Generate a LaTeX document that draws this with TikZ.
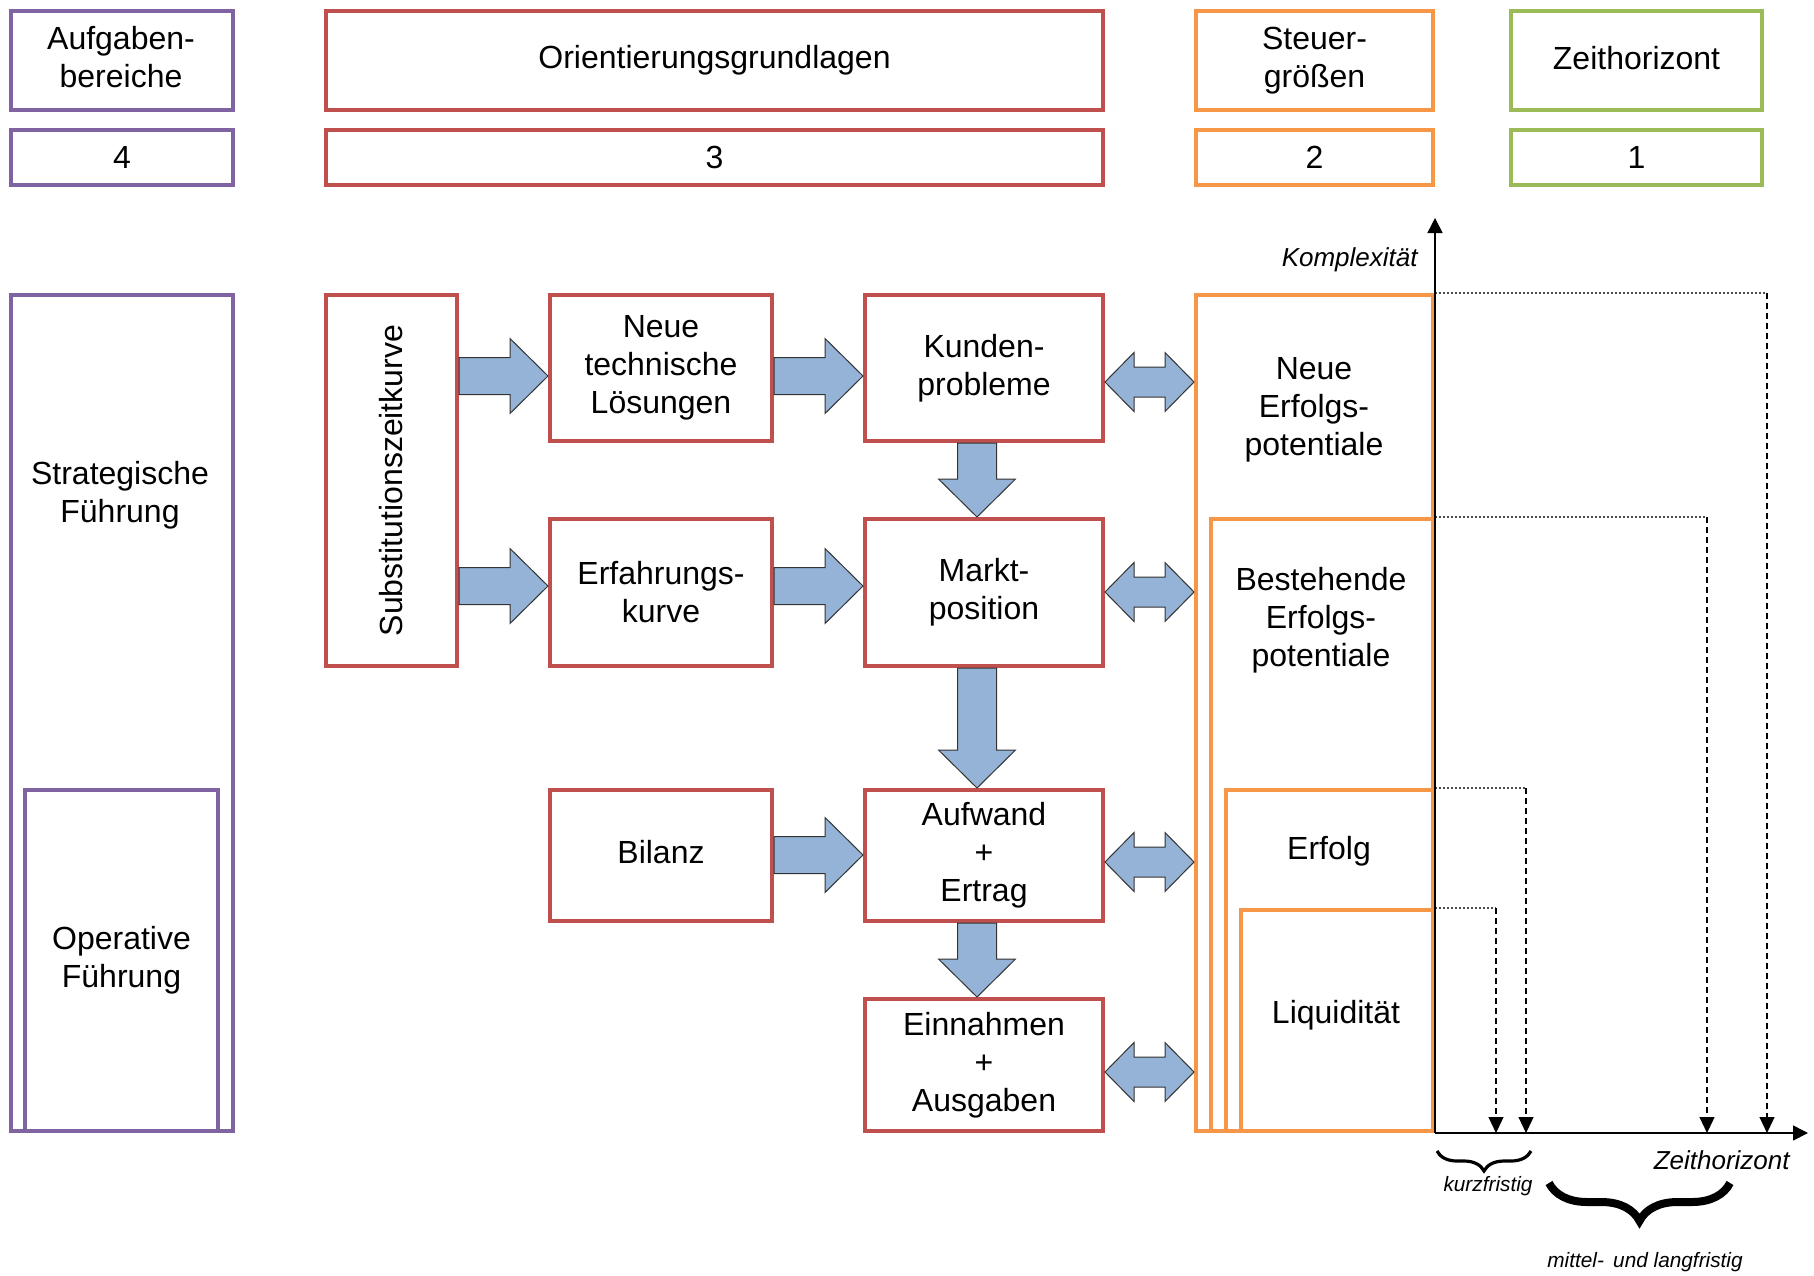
\documentclass[tikz,border=0pt]{standalone}
\usepackage{fontspec}
\setmainfont{Liberation Sans}
\usetikzlibrary{positioning}
\usetikzlibrary{calc}
\usetikzlibrary{arrows.meta}
\usetikzlibrary{decorations.pathreplacing}
\definecolor{ored}{HTML}{C0504D}
\definecolor{opurple}{HTML}{8064A2}
\definecolor{oorange}{HTML}{F79646}
\definecolor{ogreen}{HTML}{9BBB59}
\definecolor{oblue}{HTML}{95B3D7}
\tikzset{
    boxr/.style = {rectangle, line width=2pt, draw=ored, align=center, inner sep=0pt},
    boxp/.style = {rectangle, line width=2pt, draw=opurple, align=center, inner sep=0pt},
    boxo/.style = {rectangle, line width=2pt, draw=oorange, align=center, inner sep=0pt},
    boxg/.style = {rectangle, line width=2pt, draw=ogreen, align=center, inner sep=0pt},
    txt/.style = {align=center, inner sep=0pt},
    blk/.style = {draw=black!80, line width=0.5pt, fill=oblue},
    dotl/.style = {black!70, line width=0.6pt, dash pattern=on 1pt off 1pt}, % horizontal
    dashl/.style = {black, line width=0.6pt, dash pattern=on 3pt off 2pt, -{Triangle[width=7.5pt,length=8pt]}}, % down to axis
    axisl/.style = {black, line width=0.8pt, -{Triangle[width=7.5pt,length=7.5pt]}},
    lbl/.style = {font=\fontsize{13}{15}\selectfont\itshape, inner sep=0pt},
    slbl/.style = {font=\fontsize{10.4}{12}\selectfont\itshape, inner sep=0pt},
    brc/.style = {decorate, decoration={brace, mirror, amplitude=#1}}
}
% block arrows between boxes
\newcommand{\rblk}[3]{%
  \draw[blk] let \p1=(#1.east |- 0,#3), \p2=(#2.west |- 0,#3) in
    (\x1,\y1+9.25pt) -- (\x2-19pt,\y1+9.25pt) -- (\x2-19pt,\y1+18.75pt) -- (\x2,\y1)
    -- (\x2-19pt,\y1-18.75pt) -- (\x2-19pt,\y1-9.25pt) -- (\x1,\y1-9.25pt) -- cycle;}
\newcommand{\dblk}[3]{%
  \draw[blk] let \p1=(#1.south -| #3,0), \p2=(#2.north -| #3,0) in
    (\x1-9.75pt,\y1) -- (\x1-9.75pt,\y2+19pt) -- (\x1-19.25pt,\y2+19pt) -- (\x1,\y2)
    -- (\x1+19.25pt,\y2+19pt) -- (\x1+9.75pt,\y2+19pt) -- (\x1+9.75pt,\y1) -- cycle;}
\newcommand{\dhblk}[3]{%
  \draw[blk] let \p1=(#1.east |- 0,#3), \p2=(#2.west |- 0,#3) in
    (\x1,\y1) -- (\x1+14.5pt,\y1+14.75pt) -- (\x1+14.5pt,\y1+7.5pt) -- (\x2-14.5pt,\y1+7.5pt)
    -- (\x2-14.5pt,\y1+14.75pt) -- (\x2,\y1) -- (\x2-14.5pt,\y1-14.75pt) -- (\x2-14.5pt,\y1-7.5pt)
    -- (\x1+14.5pt,\y1-7.5pt) -- (\x1+14.5pt,\y1-14.75pt) -- cycle;}

\begin{document}
\begin{tikzpicture}[x=0.5pt, y=-0.5pt, font=\fontsize{16}{19}\selectfont]
  \useasboundingbox (0,0) rectangle (1814,1275);

  % header
  \node[boxp, minimum width=111pt, minimum height=49.5pt] (aufg) at (122,60.5) {};
  \node[txt] (aufgtxt) at (121,57) {Aufgaben-\\bereiche};
  \node[boxr, minimum width=388.5pt, minimum height=49.5pt] (orient) at (714.5,60.5) {\raisebox{1.75pt}{Orientierungsgrundlagen}};
  \node[boxo, minimum width=118.5pt, minimum height=49.5pt] (steuer) at (1314.5,60.5) {Steuer-\\größen};
  \node[boxg, minimum width=125.5pt, minimum height=49.5pt] (zeit) at (1636.5,60.5) {\raisebox{2.9pt}{Zeithorizont}};
  \node[boxp, minimum width=111pt, minimum height=27.5pt, below=8pt of aufg] (n4) {4};
  \node[boxr, minimum width=388.5pt, minimum height=27.5pt, below=8pt of orient] (n3) {3};
  \node[boxo, minimum width=118.5pt, minimum height=27.5pt, below=8pt of steuer] (n2) {2};
  \node[boxg, minimum width=125.5pt, minimum height=27.5pt, below=8pt of zeit] (n1) {1};

  % aufgabenbereiche
  \node[boxp, minimum width=111pt, minimum height=418pt] (strat) at (122,713) {};
  \node[txt] (strattxt) at (120,495) {Strategische\\Führung};
  \node[boxp, minimum width=96.5pt, minimum height=170.5pt] (oper) at (121.5,960.5) {Operative\\Führung};

  % orientierungsgrundlagen
  \node[boxr, minimum width=65.5pt, minimum height=185.5pt] (sub) at (391.5,480.5) {};
  \node[txt, rotate=90] (subtxt) at (sub) {Substitutionszeitkurve};
  \node[boxr, minimum width=111pt, minimum height=73pt] (neue) at (661,368) {Neue\\technische\\Lösungen};
  \node[boxr, minimum width=119pt, minimum height=73pt] (kunden) at (984,368) {Kunden-\\probleme};
  \node[boxr, minimum width=111pt, minimum height=73.5pt] (erf) at (661,592.5) {Erfahrungs-\\kurve};
  \node[boxr, minimum width=119pt, minimum height=73.5pt] (markt) at (984,592.5) {Markt-\\position};
  \node[boxr, minimum width=111pt, minimum height=65.5pt] (bilanz) at (661,855.5) {\raisebox{3.5pt}{Bilanz}};
  \node[boxr, minimum width=119pt, minimum height=65.5pt] (aufw) at (984,855.5) {Aufwand\\+\\Ertrag};
  \node[boxr, minimum width=119pt, minimum height=66pt] (einn) at (984,1065) {Einnahmen\\+\\Ausgaben};

  % steuergroessen
  \node[boxo, minimum width=118.5pt, minimum height=418pt] (neueE) at (1314.5,713) {};
  \node[boxo, minimum width=111pt, minimum height=306pt] (best) at (1322,825) {};
  \node[boxo, minimum width=103.5pt, minimum height=170.5pt] (erfolg) at (1329.5,960.5) {};
  \node[boxo, minimum width=96pt, minimum height=110.5pt] (liq) at (1337,1020.5) {};
  \node[txt] (neueEtxt) at (1314,410) {Neue\\Erfolgs-\\potentiale};
  \node[txt] (besttxt) at (1321,620) {Bestehende\\Erfolgs-\\potentiale};
  \node[txt] (erfolgtxt) at (1329,851) {Erfolg};
  \node[txt] (liqtxt) at (1336,1015) {Liquidität};

  \rblk{sub}{neue}{376}
  \rblk{neue}{kunden}{376}
  \rblk{sub}{erf}{586}
  \rblk{erf}{markt}{586}
  \rblk{bilanz}{aufw}{855}
  \dblk{kunden}{markt}{977}
  \dblk{markt}{aufw}{977}
  \dblk{aufw}{einn}{977}
  \dhblk{kunden}{neueE}{382}
  \dhblk{markt}{neueE}{592}
  \dhblk{aufw}{neueE}{862}
  \dhblk{einn}{neueE}{1072}

  % zeithorizont
  \coordinate (o) at (1435,1133);
  \coordinate (ytip) at (1435,218);
  \coordinate (xtip) at (1808,1133);
  \foreach \b/\x in {neueE/1767, best/1707, erfolg/1526, liq/1496} {
    \draw[dotl] (\b.north east) -- (\b.north east -| \x,0);
    \draw[dashl] (\b.north east -| \x,0) -- (\x,1133);
  }
  \draw[axisl] (o) -- (ytip);
  \draw[axisl] (o) -- (xtip);
  \node[lbl, anchor=east] (kompl) at (1418,260) {Komplexität};
  \node[lbl, anchor=east] (zeitax) at (1790,1160) {Zeithorizont};

  \coordinate (k1) at (1437,1151);
  \coordinate (k2) at (1531,1151);
  \coordinate (m1) at (1549,1183);
  \coordinate (m2) at (1730,1183);
  \draw[brc=10pt, line width=1.6pt] (k1) -- (k2);
  \draw[brc=19pt, line width=4pt] (m1) -- (m2);
  \node[slbl] (kurz) at (1488,1186) {kurzfristig};
  \node[slbl] (lang) at (1645,1262) {mittel-\, und langfristig};
\end{tikzpicture}
\end{document}
